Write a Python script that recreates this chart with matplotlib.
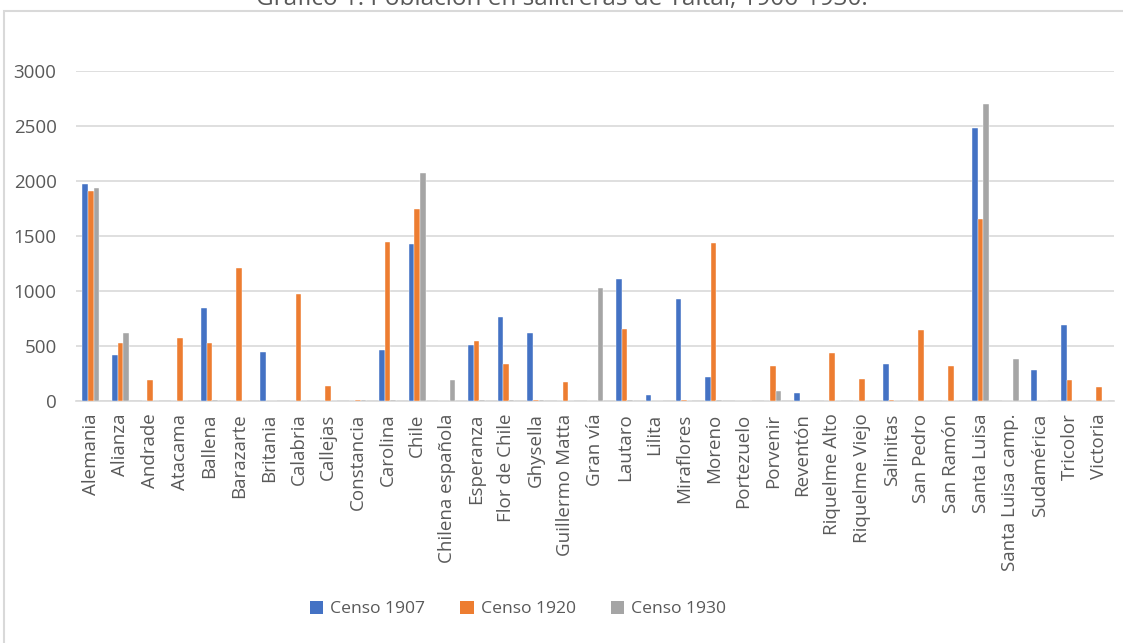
import numpy as np
import matplotlib
matplotlib.use('Agg')
import matplotlib.pyplot as plt
from matplotlib.patches import Rectangle

plt.rcParams['font.family'] = ['Open Sans', 'DejaVu Sans']

salitreras = ['Alemania', 'Alianza', 'Andrade', 'Atacama', 'Ballena', 'Barazarte',
              'Britania', 'Calabria', 'Callejas', 'Constancia', 'Carolina', 'Chile',
              'Chilena española', 'Esperanza', 'Flor de Chile', 'Ghysella',
              'Guillermo Matta', 'Gran vía', 'Lautaro', 'Lilita', 'Miraflores',
              'Moreno', 'Portezuelo', 'Porvenir', 'Reventón', 'Riquelme Alto',
              'Riquelme Viejo', 'Salinitas', 'San Pedro', 'San Ramón', 'Santa Luisa',
              'Santa Luisa camp.', 'Sudamérica', 'Tricolor', 'Victoria']

censo_1907 = [1976, 422, 0, 0, 843, 0, 449, 0, 0, 0, 461, 1424, 0, 509, 767, 615,
              0, 0, 1106, 58, 931, 218, 0, 0, 76, 0, 0, 333, 0, 0, 2482, 0, 279, 688, 0]
censo_1920 = [1912, 524, 194, 576, 527, 1212, 0, 973, 140, 13, 1449, 1749, 0, 543, 340, 8,
              170, 0, 652, 0, 8, 1440, 0, 315, 0, 437, 204, 8, 643, 322, 1652, 0, 0, 194, 125]
censo_1930 = [1933, 615, 0, 0, 8, 0, 0, 0, 0, 5, 8, 2073, 194, 8, 8, 8,
              0, 1031, 5, 0, 0, 8, 0, 88, 0, 0, 0, 0, 0, 0, 2697, 379, 0, 0, 0]

series = [('Censo 1907', censo_1907, '#4472C4'),
          ('Censo 1920', censo_1920, '#ED7D31'),
          ('Censo 1930', censo_1930, '#A5A5A5')]

fig = plt.figure(figsize=(11.23, 6.43), dpi=100)
ax = fig.add_axes([76/1123, 1 - 401/643, (1114 - 76)/1123, (401 - 71)/643])

x = np.arange(len(salitreras))
w = 0.19
for i, (name, vals, col) in enumerate(series):
    ax.bar(x + (i - 1) * w, vals, width=w, color=col, edgecolor='white',
           linewidth=0.3, label=name, zorder=3)

ax.set_xlim(-0.5, len(salitreras) - 0.5)
ax.set_ylim(0, 3000)
ax.set_yticks(np.arange(0, 3001, 500))
ax.grid(axis='y', color='#D9D9D9', linewidth=1.2, zorder=0)
for s in ['top', 'right', 'left']:
    ax.spines[s].set_visible(False)
ax.spines['bottom'].set_color('#D9D9D9')
ax.spines['bottom'].set_linewidth(1.2)
ax.tick_params(axis='both', length=0, colors='#595959', labelsize=13.5)
ax.tick_params(axis='y', pad=14)
ax.tick_params(axis='x', pad=9)
ax.set_xticks(x)
ax.set_xticklabels(salitreras, rotation=90)

# title is cut at the top edge, as in the reference
fig.text(0.5, 1 - 5/643, 'Gráfico 1. Población en salitreras de Taltal, 1906-1930.',
         ha='center', va='baseline', fontsize=17.5, color='#595959')

fig.patches.append(Rectangle((4/1123, -0.01), 1.1, 1 - 11/643 + 0.01,
                             transform=fig.transFigure, fill=False,
                             edgecolor='#D9D9D9', linewidth=1.5))

leg = fig.legend(loc='center', bbox_to_anchor=(518/1123, 1 - 609/643), ncol=3,
                 frameon=False, fontsize=12.6, labelcolor='#595959',
                 handlelength=0.75, handleheight=0.75,
                 columnspacing=2.0, handletextpad=0.4)
for h in leg.legend_handles:
    h.set_linewidth(0)

fig.savefig('out.png', dpi=100)
